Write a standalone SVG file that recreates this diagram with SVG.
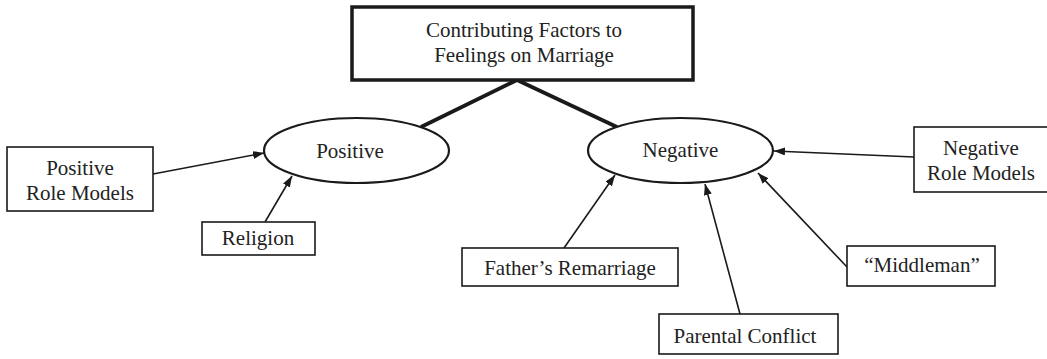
<svg xmlns="http://www.w3.org/2000/svg" width="1047" height="359" viewBox="0 0 1047 359">
<style>
.box{fill:#fff;stroke:#1a1a1a;stroke-width:1.6}
.main{fill:#fff;stroke:#1a1a1a;stroke-width:3.5}
.ell{fill:#fff;stroke:#1a1a1a;stroke-width:2.2}
.t{font-family:"Liberation Serif","Times New Roman",serif;font-size:21px;fill:#222;text-anchor:middle}
.arr{stroke:#1a1a1a;stroke-width:1.6;fill:none;marker-end:url(#ah)}
.thick{stroke:#1a1a1a;stroke-width:3.8;fill:none}
</style>
<defs>
<marker id="ah" markerUnits="userSpaceOnUse" markerWidth="12" markerHeight="9" refX="11" refY="4" orient="auto">
<path d="M0,0 L11,4 L0,8 z" fill="#1a1a1a"/>
</marker>
</defs>
<rect width="1047" height="359" fill="#fff"/>
<g id="connectors">
<line class="thick" x1="517" y1="80" x2="421" y2="127"/>
<line class="thick" x1="517" y1="80" x2="617" y2="127"/>
<line class="arr" x1="153" y1="174" x2="264" y2="153"/>
<line class="arr" x1="265" y1="222" x2="292" y2="176"/>
<line class="arr" x1="914" y1="157" x2="774" y2="151"/>
<line class="arr" x1="564" y1="248" x2="615" y2="175"/>
<line class="arr" x1="740" y1="314" x2="705" y2="184"/>
<line class="arr" x1="847" y1="267" x2="758" y2="173"/>
</g>
<g id="title">
<rect class="main" x="352" y="7" width="341" height="73"/>
<text class="t" x="524" y="37">Contributing Factors to</text>
<text class="t" x="524" y="62">Feelings on Marriage</text>
</g>
<g id="positive">
<ellipse class="ell" cx="356.5" cy="150.5" rx="92.5" ry="32.5"/>
<text class="t" x="350" y="158">Positive</text>
</g>
<g id="negative">
<ellipse class="ell" cx="680.5" cy="150.5" rx="92.5" ry="32.5"/>
<text class="t" x="680.5" y="157">Negative</text>
</g>
<g id="positive-role-models">
<rect class="box" x="7" y="147" width="146" height="64"/>
<text class="t" x="80" y="175">Positive</text>
<text class="t" x="80" y="200">Role Models</text>
</g>
<g id="religion">
<rect class="box" x="202" y="222" width="113" height="33"/>
<text class="t" x="258" y="245">Religion</text>
</g>
<g id="negative-role-models">
<rect class="box" x="914" y="127" width="140" height="65"/>
<text class="t" x="981" y="155">Negative</text>
<text class="t" x="981" y="180">Role Models</text>
</g>
<g id="fathers-remarriage">
<rect class="box" x="462" y="248" width="216" height="38"/>
<text class="t" x="570" y="275">Father’s Remarriage</text>
</g>
<g id="parental-conflict">
<rect class="box" x="659" y="314" width="179" height="40"/>
<text class="t" x="745" y="343">Parental Conflict</text>
</g>
<g id="middleman">
<rect class="box" x="847" y="246" width="148" height="40"/>
<text class="t" x="922" y="272">“Middleman”</text>
</g>
</svg>
